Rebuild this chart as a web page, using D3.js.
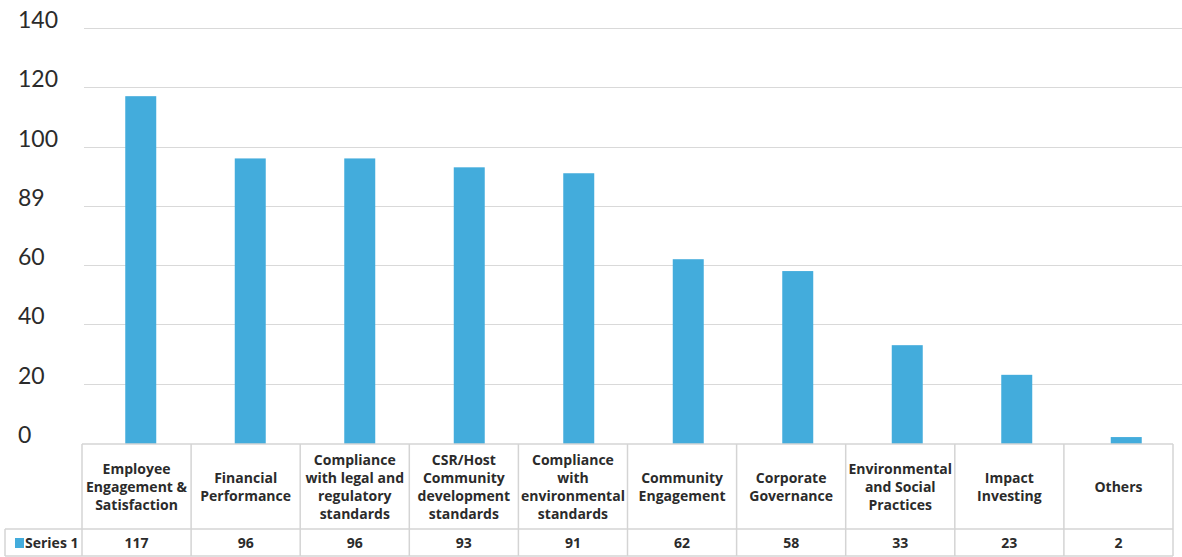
<!DOCTYPE html>
<html><head><meta charset="utf-8">
<script src="https://cdn.jsdelivr.net/npm/d3@7"></script>
<style>html,body{margin:0;padding:0;background:#fff;}svg{display:block;}</style>
</head><body>
<svg id="chart" width="1182" height="557"></svg>
<script>
const categories = [
  ["Employee","Engagement &","Satisfaction"],
  ["Financial","Performance"],
  ["Compliance","with legal and","regulatory","standards"],
  ["CSR/Host","Community","development","standards"],
  ["Compliance","with","environmental","standards"],
  ["Community","Engagement"],
  ["Corporate","Governance"],
  ["Environmental","and Social","Practices"],
  ["Impact","Investing"],
  ["Others"]
];
const seriesName = "Series 1";
const values = [117, 96, 96, 93, 91, 62, 58, 33, 23, 2];
const tickValues = [0, 20, 40, 60, 80, 100, 120, 140];
const tickLabels = ["0", "20", "40", "60", "89", "100", "120", "140"];

const barColor = "#43acdc", gridColor = "#d9d9d9", lineColor = "#d4d4d4", textColor = "#2b2b2b";
const labelFont = "'Open Sans', sans-serif";
const svg = d3.select("#chart");
const idx = d3.range(categories.length);

const y = d3.scaleLinear().domain([0, 140]).range([443, 28]);
const xBar = d3.scaleBand().domain(idx).range([86, 1181]).paddingInner(0.717).paddingOuter(0.3585);
const xTab = d3.scaleBand().domain(idx).range([82, 1173]);

// gridlines
svg.append("g").selectAll("line").data(tickValues.filter(d => d > 0)).join("line")
  .attr("x1", 84).attr("x2", 1182)
  .attr("y1", d => Math.round(y(d)) + 0.5).attr("y2", d => Math.round(y(d)) + 0.5)
  .attr("stroke", gridColor).attr("stroke-width", 1);

// y labels
svg.append("g").selectAll("text").data(tickValues).join("text")
  .attr("x", 18).attr("y", d => y(d))
  .attr("font-family", "Lato, sans-serif").attr("font-size", 23)
  .attr("fill", textColor)
  .text((d, i) => tickLabels[i]);

// bars
svg.append("g").selectAll("rect").data(values).join("rect")
  .attr("x", (d, i) => xBar(i)).attr("width", xBar.bandwidth())
  .attr("y", d => y(d)).attr("height", d => y(0) - y(d) + 1)
  .attr("fill", barColor);

// table
const tTop = 444, tMid = 529, tBot = 556, legLeft = 5;
const tg = svg.append("g").attr("stroke", lineColor).attr("stroke-width", 1.5);
tg.append("line").attr("x1", xTab.range()[0]).attr("x2", xTab.range()[1]).attr("y1", tTop).attr("y2", tTop);
tg.append("line").attr("x1", legLeft).attr("x2", xTab.range()[1]).attr("y1", tMid).attr("y2", tMid);
tg.append("line").attr("x1", legLeft).attr("x2", xTab.range()[1]).attr("y1", tBot).attr("y2", tBot);
tg.append("line").attr("x1", legLeft).attr("x2", legLeft).attr("y1", tMid).attr("y2", tBot);
tg.selectAll("line.v").data(idx.concat([categories.length])).join("line").attr("class", "v")
  .attr("x1", i => i < categories.length ? xTab(i) : xTab.range()[1])
  .attr("x2", i => i < categories.length ? xTab(i) : xTab.range()[1])
  .attr("y1", tTop).attr("y2", tBot);

// category labels
const lh = 18;
const cg = svg.append("g").attr("font-family", labelFont).attr("font-weight", 700)
  .attr("font-size", 14).attr("fill", textColor).attr("text-anchor", "middle");
categories.forEach((lines, i) => {
  const cx = xTab(i) + xTab.bandwidth() / 2;
  const first = (tTop + tMid) / 2 + 5 - (lines.length - 1) * lh / 2;
  const t = cg.append("text").attr("x", cx).attr("y", first);
  lines.forEach((l, j) => t.append("tspan").attr("x", cx).attr("y", first + j * lh).text(l));
});

// values row
svg.append("g").selectAll("text").data(values).join("text")
  .attr("x", (d, i) => xTab(i) + xTab.bandwidth() / 2).attr("y", 548)
  .attr("font-family", labelFont).attr("font-weight", 700).attr("font-size", 14)
  .attr("fill", textColor).attr("text-anchor", "middle").text(d => d);

// legend
svg.append("rect").attr("x", 15).attr("y", 538).attr("width", 9).attr("height", 10).attr("fill", barColor);
svg.append("text").attr("x", 25).attr("y", 548)
  .attr("font-family", labelFont).attr("font-weight", 700).attr("font-size", 14)
  .attr("fill", textColor).text(seriesName);
</script>
</body></html>
